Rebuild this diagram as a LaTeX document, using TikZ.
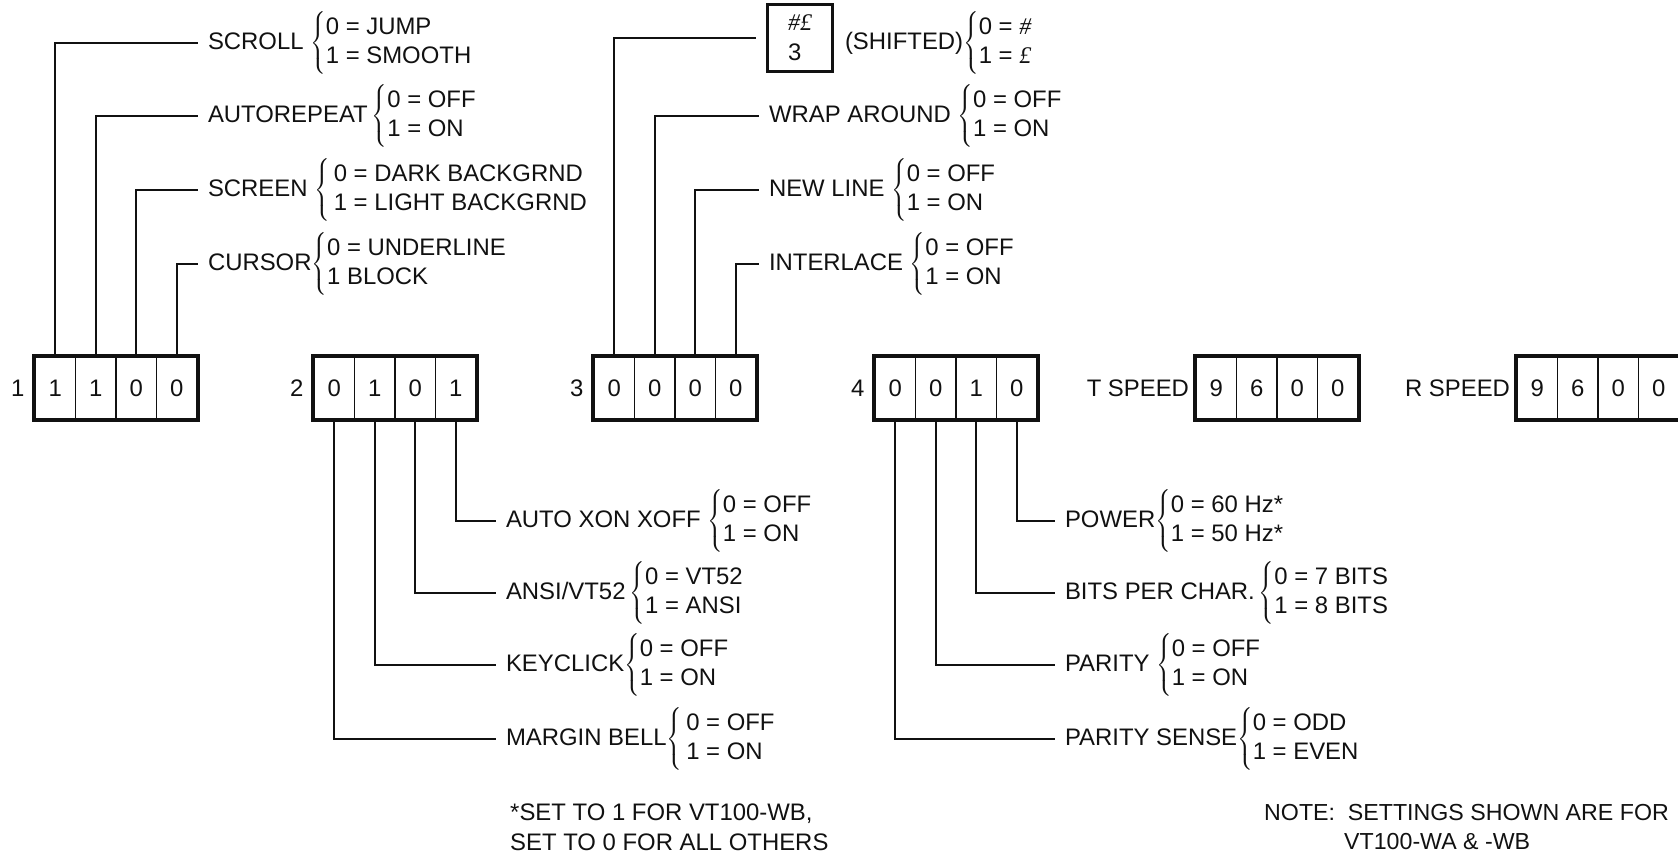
\documentclass[tikz,border=0pt]{standalone}
\usepackage{fontspec}
\setmainfont{Liberation Sans}
\newfontfamily\keyserif{Liberation Serif}
\usetikzlibrary{positioning}
\definecolor{dkink}{HTML}{111111}
% brace + the two meanings of a switch
\newcommand{\setopts}[2]{$\left\{\begin{tabular}{@{}l@{}}#1\\#2\end{tabular}\right.$}
\newcommand{\scriptpound}{{\keyserif\itshape £}}

\begin{document}
\begin{tikzpicture}[
    x=0.02cm, y=-0.02cm,
    font=\fontsize{13.6pt}{17pt}\selectfont,
    wire/.style={draw=dkink, line width=1.2pt},
    cell/.style={draw=dkink, line width=0.9pt, minimum width=0.81cm,
                 minimum height=1.24cm, inner sep=0pt, text=dkink},
    swframe/.style={draw=dkink, line width=2pt},
    lbl/.style={anchor=west, inner xsep=5.5pt, inner ysep=0pt, text=dkink},
    keycap/.style={draw=dkink, line width=1.2pt, minimum width=1.3cm,
                   minimum height=1.34cm, align=left, text=dkink},
  ]
  \useasboundingbox (0,0) rectangle (1678,856);

  % ===== switch banks 1-4, T speed, R speed =====
  \foreach \g/\gx/\vals in {1/35/{1,1,0,0}, 2/314/{0,1,0,1}, 3/594/{0,0,0,0},
                            4/875/{0,0,1,0}, T/1196/{9,6,0,0}, R/1517/{9,6,0,0}} {
    \foreach \v [count=\i] in \vals
      \node[cell] (g\g c\i) at ({\gx+(\i-0.5)*40.5}, 388) {\v};
    \draw[swframe] (g\g c1.north west) rectangle (g\g c4.south east);
  }
  \foreach \g in {1,2,3,4}
    \node[text=dkink, left=2pt of g\g c1] (num\g) {\g};
  \node[text=dkink, left=0pt of gTc1] (tspeed) {T SPEED};
  \node[text=dkink, left=0pt of gRc1] (rspeed) {R SPEED};

  % ===== bank 1: labels above =====
  \node[lbl] (scroll)  at (198, 43)  {SCROLL~\setopts{0 = JUMP}{1 = SMOOTH}};
  \node[lbl] (autorep) at (198, 116) {AUTOREPEAT\,\setopts{0 = OFF}{1 = ON}};
  \node[lbl] (screen)  at (198, 190) {SCREEN~\setopts{\,0 = DARK BACKGRND}{\,1 = LIGHT BACKGRND}};
  \node[lbl] (cursor)  at (198, 264) {CURSOR\setopts{0 = UNDERLINE}{1 BLOCK}};
  \foreach \bit/\lab in {1/scroll, 2/autorep, 3/screen, 4/cursor}
    \draw[wire] (g1c\bit.north) |- (\lab.west);

  % ===== bank 3: labels above =====
  \node[keycap] (shiftkey) at (800, 38) {{\keyserif\itshape\#£}\\3};
  \node[lbl] (shifted)   at (835, 43)  {(SHIFTED)\setopts{0 = {\keyserif\itshape\#}}{1 = \scriptpound}};
  \node[lbl] (wrap)      at (759, 116) {WRAP AROUND~\setopts{0 = OFF}{1 = ON}};
  \node[lbl] (newline)   at (759, 190) {NEW LINE~\setopts{0 = OFF}{1 = ON}};
  \node[lbl] (interlace) at (759, 264) {INTERLACE~\setopts{0 = OFF}{1 = ON}};
  \draw[wire, shorten >=0.2cm] (g3c1.north) |- (shiftkey.west);
  \foreach \bit/\lab in {2/wrap, 3/newline, 4/interlace}
    \draw[wire] (g3c\bit.north) |- (\lab.west);

  % ===== bank 2: labels below =====
  \node[lbl] (xonxoff)  at (496, 521) {AUTO XON XOFF~\setopts{0 = OFF}{1 = ON}};
  \node[lbl] (ansi)     at (496, 593) {ANSI/VT52\,\setopts{0 = VT52}{1 = ANSI}};
  \node[lbl] (keyclick) at (496, 665) {KEYCLICK\setopts{0 = OFF}{1 = ON}};
  \node[lbl] (bell)     at (496, 739) {MARGIN BELL\setopts{\,0 = OFF}{\,1 = ON}};
  \foreach \bit/\lab in {4/xonxoff, 3/ansi, 2/keyclick, 1/bell}
    \draw[wire] (g2c\bit.south) |- (\lab.west);

  % ===== bank 4: labels below =====
  \node[lbl] (power)  at (1055, 521) {POWER\setopts{0 = 60 Hz*}{1 = 50 Hz*}};
  \node[lbl] (bpc)    at (1055, 593) {BITS PER CHAR.\,\setopts{0 = 7 BITS}{1 = 8 BITS}};
  \node[lbl] (parity) at (1055, 665) {PARITY~\setopts{0 = OFF}{1 = ON}};
  \node[lbl] (psense) at (1055, 739) {PARITY SENSE\setopts{0 = ODD}{1 = EVEN}};
  \foreach \bit/\lab in {4/power, 3/bpc, 2/parity, 1/psense}
    \draw[wire] (g4c\bit.south) |- (\lab.west);

  % ===== notes =====
  \node[text=dkink, align=left, anchor=west] (wbnote) at (504, 827)
    {*SET TO 1 FOR VT100-WB,\\SET TO 0 FOR ALL OTHERS};
  \node[text=dkink, align=left, anchor=west, font=\fontsize{13.2pt}{17pt}\selectfont]
    (wanote) at (1258, 827) {NOTE:\ \ SETTINGS SHOWN ARE FOR\\\hspace*{1.6cm}VT100-WA \& -WB};
\end{tikzpicture}
\end{document}
